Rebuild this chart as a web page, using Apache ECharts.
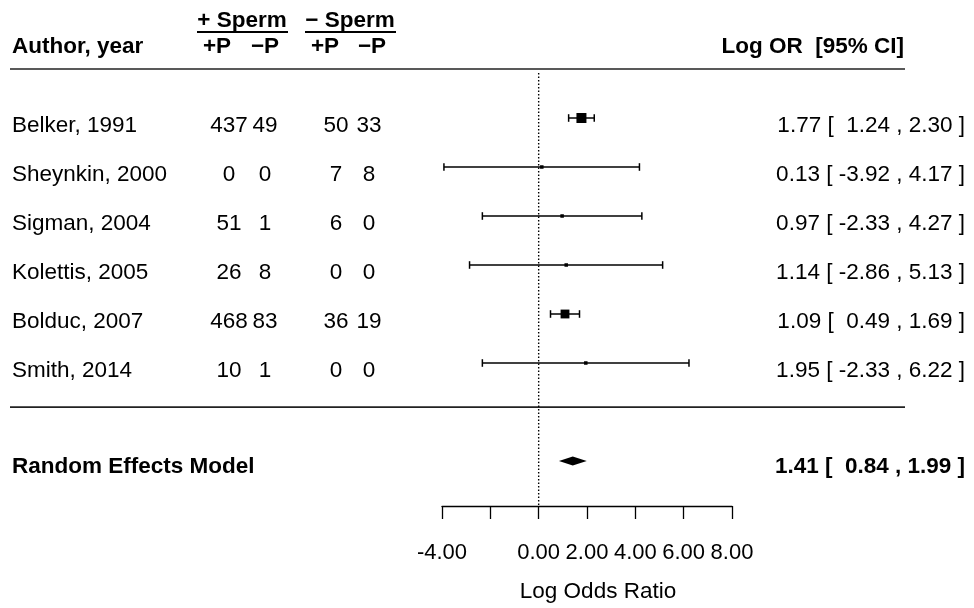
<!DOCTYPE html>
<html>
<head>
<meta charset="utf-8">
<script src="https://cdn.jsdelivr.net/npm/echarts@6/dist/echarts.min.js"></script>
<style>
  html, body { margin: 0; padding: 0; background: #fff; }
  #forest { width: 974px; height: 608px; }
</style>
</head>
<body>
<div id="forest"></div>
<script>
// study table
var studies = ['Belker, 1991', 'Sheynkin, 2000', 'Sigman, 2004', 'Kolettis, 2005', 'Bolduc, 2007', 'Smith, 2014']
var spermPosP = [437, 0, 51, 26, 468, 10]
var spermPosN = [49, 0, 1, 8, 83, 1]
var spermNegP = [50, 7, 6, 0, 36, 0]
var spermNegN = [33, 8, 0, 0, 19, 0]
var logOR = [1.77, 0.13, 0.97, 1.14, 1.09, 1.95]
var ciLow = [1.24, -3.92, -2.33, -2.86, 0.49, -2.33]
var ciHigh = [2.30, 4.17, 4.27, 5.13, 1.69, 6.22]

// random effects summary
var summaryLabel = 'Random Effects Model'
var summaryEst = 1.41
var summaryLow = 0.84
var summaryHigh = 1.99

var xTicks = [-4, -2, 0, 2, 4, 6, 8]
var hiddenTicks = [-2]   // label dropped in the original

var FONT = "Arial, 'Liberation Sans', Helvetica, sans-serif"
var FS = 22.5
var rowPx = 49
var gridTop = 20, gridBottom = 102
var yMin = -1
var yMax = yMin + (608 - gridTop - gridBottom) / rowPx
var summaryRow = studies.length + 2

function fmt(v) { return v.toFixed(2) }
function ciText(est, lo, hi) {
    var l = lo < 0 ? ' ' + fmt(lo) : '  ' + fmt(lo)
    return fmt(est) + ' [' + l + ' , ' + fmt(hi) + ' ]'
}

// box size from inverse-variance weights
var weights = ciLow.map((lo, i) => { var se = (ciHigh[i] - lo) / 3.92; return 1 / (se * se) })
var wMax = Math.max.apply(null, weights)

var studyData = studies.map((s, i) => [logOR[i], ciLow[i], ciHigh[i], i + 1, Math.max(3.5, 10 * Math.sqrt(weights[i] / wMax))])

function txt(x, y, text, align, bold) {
    return {
        type: 'text', x: x, y: y,
        style: { text: text, fill: '#000', font: (bold ? 'bold ' : '') + FS + 'px ' + FONT, align: align, verticalAlign: 'middle' }
    }
}

var myChart = echarts.init(document.getElementById('forest'))
myChart.setOption({
    animation: false,
    backgroundColor: '#fff',
    grid: { left: 442, right: 242, top: gridTop, bottom: gridBottom, containLabel: false },
    xAxis: {
        type: 'value', min: xTicks[0], max: xTicks[xTicks.length - 1], interval: 2,
        splitLine: { show: false },
        axisLine: { show: true, onZero: false, lineStyle: { color: '#000', width: 1.3 } },
        axisTick: { show: true, inside: false, length: 13, lineStyle: { color: '#000', width: 1.3 } },
        axisLabel: {
            margin: 36, color: '#000', fontSize: 22, fontFamily: FONT,
            formatter: v => hiddenTicks.indexOf(v) >= 0 ? '' : fmt(v)
        },
        name: 'Log Odds Ratio', nameLocation: 'middle', nameGap: 74,
        nameTextStyle: { color: '#000', fontSize: FS, fontFamily: FONT, padding: [0, 0, 0, 22] }
    },
    yAxis: { type: 'value', inverse: true, min: yMin, max: yMax, show: false },
    graphic: [
        txt(12, 47, 'Author, year', 'left', true),
        txt(242, 21, '+ Sperm', 'center', true),
        txt(350, 21, '\u2212 Sperm', 'center', true),
        { type: 'line', shape: { x1: 197, y1: 32, x2: 288, y2: 32 }, style: { stroke: '#000', lineWidth: 2 } },
        { type: 'line', shape: { x1: 305, y1: 32, x2: 396, y2: 32 }, style: { stroke: '#000', lineWidth: 2 } },
        txt(217, 47, '+P', 'center', true),
        txt(265, 47, '\u2212P', 'center', true),
        txt(325, 47, '+P', 'center', true),
        txt(372, 47, '\u2212P', 'center', true),
        txt(904, 47, 'Log OR  [95% CI]', 'right', true)
    ],
    series: [
        {
            // separators
            type: 'custom', clip: false, silent: true,
            data: [[0, 0], [0, studies.length + 0.9]],
            renderItem: (params, api) => {
                var y = api.coord([0, api.value(1)])[1]
                return { type: 'line', shape: { x1: 10, y1: y, x2: 905, y2: y }, style: { stroke: '#222', lineWidth: 1.6 } }
            }
        },
        {
            // null line
            type: 'line', symbol: 'none', silent: true,
            data: [[0, 0.08], [0, yMax]],
            lineStyle: { color: '#000', width: 1.4, type: [1.5, 2] }
        },
        {
            // table text
            type: 'custom', clip: false, silent: true,
            data: studies.map((s, i) => [0, i + 1]),
            renderItem: (params, api) => {
                var i = params.dataIndex
                var y = api.coord([0, api.value(1)])[1] + 7.5
                return {
                    type: 'group', children: [
                        txt(12, y, studies[i], 'left'),
                        txt(229, y, String(spermPosP[i]), 'center'),
                        txt(265, y, String(spermPosN[i]), 'center'),
                        txt(336, y, String(spermNegP[i]), 'center'),
                        txt(369, y, String(spermNegN[i]), 'center'),
                        txt(965, y, ciText(logOR[i], ciLow[i], ciHigh[i]), 'right')
                    ]
                }
            }
        },
        {
            // study estimates and CIs
            type: 'custom', clip: false,
            data: studyData,
            renderItem: (params, api) => {
                var row = api.value(3), size = api.value(4)
                var pLo = api.coord([api.value(1), row])
                var pHi = api.coord([api.value(2), row])
                var pEst = api.coord([api.value(0), row])
                var cap = 3.8
                var st = { stroke: '#000', lineWidth: 1.5 }
                return {
                    type: 'group', children: [
                        { type: 'line', shape: { x1: pLo[0], y1: pLo[1], x2: pHi[0], y2: pHi[1] }, style: st },
                        { type: 'line', shape: { x1: pLo[0], y1: pLo[1] - cap, x2: pLo[0], y2: pLo[1] + cap }, style: st },
                        { type: 'line', shape: { x1: pHi[0], y1: pHi[1] - cap, x2: pHi[0], y2: pHi[1] + cap }, style: st },
                        { type: 'rect', shape: { x: pEst[0] - size / 2, y: pEst[1] - size / 2, width: size, height: size }, style: { fill: '#000' } }
                    ]
                }
            }
        },
        {
            // summary diamond + label
            type: 'custom', clip: false,
            data: [[summaryEst, summaryLow, summaryHigh, summaryRow]],
            renderItem: (params, api) => {
                var row = api.value(3)
                var pLo = api.coord([api.value(1), row])
                var pHi = api.coord([api.value(2), row])
                var pEst = api.coord([api.value(0), row])
                var h = 4.5
                var y = pEst[1] + 6
                return {
                    type: 'group', children: [
                        { type: 'polygon', shape: { points: [[pLo[0], pLo[1]], [pEst[0], pEst[1] - h], [pHi[0], pHi[1]], [pEst[0], pEst[1] + h]] }, style: { fill: '#000' } },
                        txt(12, y, summaryLabel, 'left', true),
                        txt(965, y, ciText(summaryEst, summaryLow, summaryHigh), 'right', true)
                    ]
                }
            }
        }
    ]
})
</script>
</body>
</html>
